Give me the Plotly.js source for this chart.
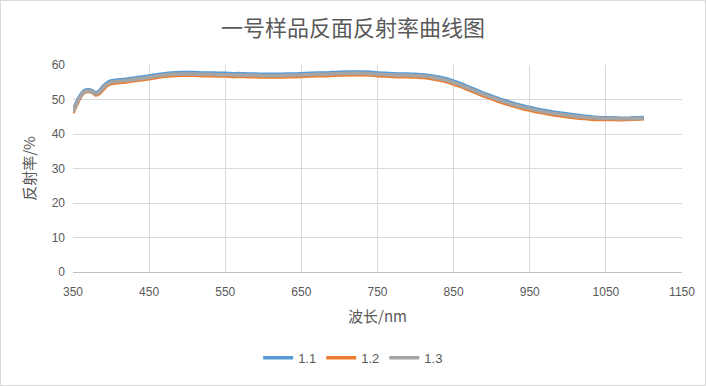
<!DOCTYPE html>
<html>
<head>
<meta charset="utf-8">
<script src="https://cdn.plot.ly/plotly-3.0.1.min.js"></script>
<style>
html,body{margin:0;padding:0;background:#fff;}
#wrap{width:706px;height:386px;box-sizing:border-box;border:1px solid #D9D9D9;}
#chart{width:704px;height:384px;}
</style>
</head>
<body>
<div id="wrap"><div id="chart"></div></div>
<script>
const wavelength = [350,355,360,365,370,375,380,385,390,395,400,410,420,430,440,450,460,470,480,490,500,510,520,530,540,550,560,570,580,590,600,610,620,630,640,650,660,670,680,690,700,710,720,730,740,750,760,770,780,790,800,810,820,830,840,850,860,870,880,890,900,910,920,930,940,950,960,970,980,990,1000,1010,1020,1030,1040,1050,1060,1070,1080,1090,1100];

const s11 = [46.8,49.4,51.4,52.6,52.8,52.6,51.9,52.6,53.9,54.9,55.4,55.7,55.9,56.2,56.5,56.8,57.2,57.5,57.7,57.8,57.8,57.8,57.7,57.7,57.6,57.6,57.5,57.5,57.4,57.4,57.3,57.3,57.3,57.4,57.4,57.5,57.6,57.7,57.7,57.8,57.9,58.0,58.0,58.0,57.9,57.7,57.6,57.5,57.4,57.4,57.3,57.2,56.9,56.5,56.0,55.3,54.5,53.6,52.7,51.8,51.0,50.2,49.5,48.8,48.2,47.7,47.2,46.8,46.4,46.1,45.8,45.5,45.2,45.0,44.8,44.7,44.7,44.6,44.6,44.7,44.8];

const s12 = [46.1,48.6,50.8,52.1,52.3,52.1,51.3,51.8,53.0,54.1,54.6,54.9,55.1,55.4,55.7,56.0,56.4,56.7,56.9,57.0,57.0,57.0,56.9,56.9,56.8,56.8,56.7,56.7,56.6,56.6,56.5,56.5,56.5,56.6,56.6,56.7,56.8,56.9,56.9,57.0,57.1,57.2,57.2,57.2,57.1,56.9,56.8,56.7,56.6,56.6,56.5,56.4,56.1,55.7,55.2,54.5,53.7,52.8,51.9,51.0,50.2,49.4,48.7,48.0,47.4,46.9,46.4,46.0,45.6,45.3,45.0,44.7,44.5,44.3,44.2,44.2,44.2,44.1,44.2,44.3,44.4];

const s13 = [46.5,49.0,51.0,52.3,52.5,52.3,51.6,52.2,53.5,54.5,55.0,55.3,55.5,55.8,56.1,56.4,56.8,57.1,57.3,57.4,57.4,57.4,57.3,57.3,57.2,57.2,57.1,57.1,57.0,57.0,56.9,56.9,56.9,57.0,57.0,57.1,57.2,57.3,57.3,57.4,57.5,57.6,57.6,57.6,57.5,57.3,57.2,57.1,57.0,57.0,56.9,56.8,56.5,56.1,55.6,54.9,54.1,53.2,52.3,51.4,50.6,49.8,49.1,48.4,47.8,47.3,46.8,46.4,46.0,45.7,45.4,45.1,44.9,44.7,44.6,44.5,44.5,44.4,44.4,44.5,44.6];

const seriesNames = ['1.1','1.2','1.3'];
const seriesColors = ['#5B9BD5','#ED7D31','#A5A5A5'];
const seriesData = [s11, s12, s13];

const traces = seriesData.map((y,i)=>({
  x: wavelength, y: y, name: seriesNames[i], type:'scatter', mode:'lines',
  line:{color: seriesColors[i], width:3.5, shape:'spline', smoothing:0.6}
}));

const tickFont = {family:'Liberation Sans, Arial, sans-serif', size:12, color:'#595959'};
const cjk = 'Noto Sans CJK SC, sans-serif';

const layout = {
  width:704, height:384,
  margin:{l:72, r:23, t:64, b:113},
  paper_bgcolor:'#fff', plot_bgcolor:'#fff',
  title:{text:'一号样品反面反射率曲线图', font:{family:cjk, size:22, color:'#595959'}, x:0.5, xanchor:'center', y:0.928, yanchor:'middle'},
  xaxis:{
    range:[350,1150], tick0:350, dtick:100, tickmode:'linear',
    showgrid:true, gridcolor:'#D9D9D9', gridwidth:1,
    showline:true, linecolor:'#BFBFBF', linewidth:1,
    zeroline:false, ticks:'', tickfont:tickFont, ticklen:0, ticklabelstandoff:9,
    title:{text:'波长/nm', font:{family:cjk, size:15, color:'#595959'}, standoff:13}
  },
  yaxis:{
    range:[0,60], dtick:10, tick0:0,
    showgrid:true, gridcolor:'#D9D9D9', gridwidth:1,
    showline:false, zeroline:false, ticks:'', tickfont:tickFont, ticklabelstandoff:7,
    title:{text:'反射率/%', font:{family:cjk, size:15, color:'#595959'}, standoff:12}
  },
  showlegend:true,
  legend:{orientation:'h', x:0.46, xanchor:'center', y:-0.415, yanchor:'middle',
    font:{family:'Liberation Sans, Arial, sans-serif', size:13, color:'#595959'},
    itemwidth:30, tracegroupgap:0}
};

Plotly.newPlot('chart', traces, layout, {displayModeBar:false, staticPlot:true});
</script>
</body>
</html>
